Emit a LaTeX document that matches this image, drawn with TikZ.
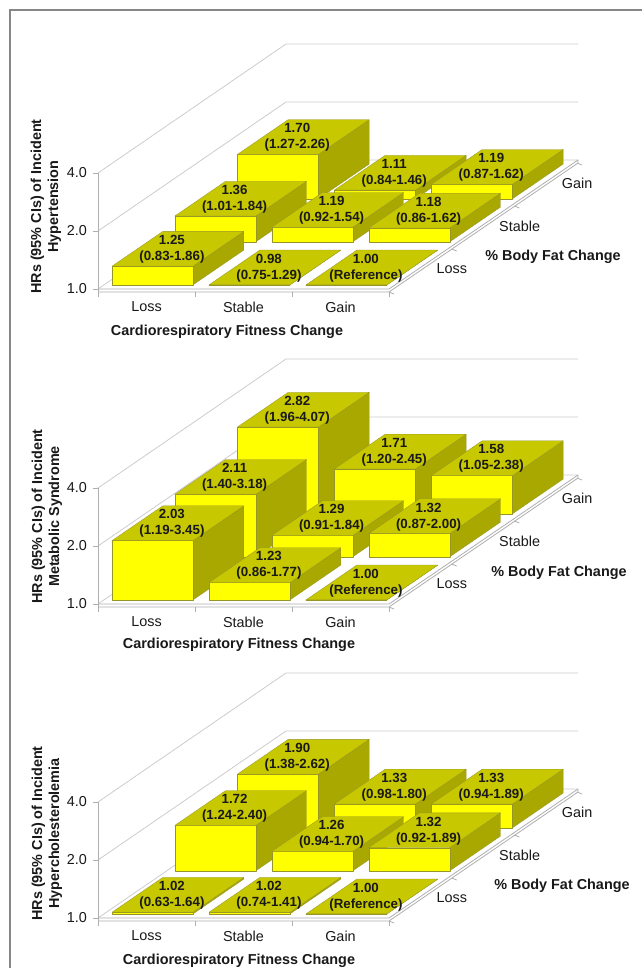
\documentclass[tikz,border=0pt]{standalone}
\usepackage{fontspec}
\setmainfont{Liberation Sans}
\definecolor{barfront}{RGB}{255,255,0}
\definecolor{bartop}{RGB}{200,200,0}
\definecolor{barside}{RGB}{168,168,0}
\definecolor{baredge}{RGB}{150,150,40}
\definecolor{gridgray}{RGB}{205,205,205}
\definecolor{axisgray}{RGB}{175,175,175}
\definecolor{framegray}{RGB}{135,135,135}
\definecolor{txt}{RGB}{25,25,25}
\tikzset{
  topface/.style={fill=bartop,draw=baredge,line width=0.3pt,line join=round},
  sideface/.style={fill=barside,draw=baredge,line width=0.3pt,line join=round},
  frontface/.style={fill=barfront,draw=baredge,line width=0.3pt,line join=round},
  barlabel/.style={align=center,inner sep=0pt,text=txt,font=\bfseries\fontsize{13.3}{16}\selectfont},
  gridline/.style={draw=gridgray,line width=0.8pt},
  axisline/.style={draw=axisgray,line width=0.8pt},
  ticklabel/.style={anchor=east,inner sep=0pt,text=txt,font=\fontsize{14.4}{17}\selectfont},
  catlabel/.style={inner sep=0pt,text=txt,font=\fontsize{14.4}{17}\selectfont},
  rowlabel/.style={anchor=west,inner sep=0pt,text=txt,font=\fontsize{14.4}{17}\selectfont},
  axistitle/.style={inner sep=0pt,text=txt,align=center,font=\bfseries\fontsize{14.4}{17}\selectfont},
}
% #1 origin y, #2 column, #3 row, #4 value, #5 line 1, #6 line 2, #7 node name
\newcommand\HRbar[7]{%
  \pgfmathsetmacro\bx{106+97*#2+(#3/3+0.032)*188}%
  \pgfmathsetmacro\by{#1-(#3/3+0.032)*129}%
  \pgfmathsetmacro\bh{max(0,58*ln(#4)/ln(2))}%
  \pgfmathsetmacro\bt{\by-\bh}%
  \path[sideface] ({\bx+81},\by) -- ++(50.8,-34.8) -- ++(0,-\bh) -- ++(-50.8,34.8) -- cycle;
  \path[frontface] (\bx,\by) rectangle ({\bx+81},\bt);
  \path[topface] (\bx,\bt) -- ++(81,0) -- ++(50.8,-34.8) -- ++(-81,0) -- cycle;
  \node[barlabel] (#7) at ({\bx+59.9},{\bt-16.9}) {#5\\#6};
}
% #1 origin y, #2 chart id
\newcommand\HRframe[2]{%
  \foreach \k in {0,1,2} {
    \draw[gridline] (98,{#1-58*\k}) -- (286,{#1-129-58*\k}) -- (578,{#1-129-58*\k});
  }
  \draw[axisline] (98,#1) -- (389,#1) -- (578,{#1-129});
  \draw[axisline] (98,{#1+3}) -- (389,{#1+3}) -- (578,{#1-126}) -- (578,{#1-129});
  \draw[axisline] (98,{#1-116}) -- (98,{#1+3});
  \foreach \k in {0,1,2} {\draw[axisline] (93,{#1-58*\k}) -- (98,{#1-58*\k});}
  \foreach \c in {0,1,2,3} {\draw[axisline] ({98+97*\c},{#1+3}) -- ({98+97*\c},{#1+8});}
  \foreach \r in {0,1,2,3} {\draw[axisline] ({389+188*\r/3},{#1+3-129*\r/3}) -- ++(5,2);}
  \node[ticklabel] (t#2a) at (87,#1) {1.0};
  \node[ticklabel] (t#2b) at (87,{#1-58}) {2.0};
  \node[ticklabel] (t#2c) at (87,{#1-116}) {4.0};
  \node[catlabel] (c#2a) at (146.5,{#1+18}) {Loss};
  \node[catlabel] (c#2b) at (243.5,{#1+18}) {Stable};
  \node[catlabel] (c#2c) at (340.5,{#1+18}) {Gain};
  \node[rowlabel] (r#2a) at ({389+188/6+16},{#1-129/6+1.5}) {Loss};
  \node[rowlabel] (r#2b) at ({389+188/2+16},{#1-129/2+1.5}) {Stable};
  \node[rowlabel] (r#2c) at ({389+188*5/6+16},{#1-129*5/6+1.5}) {Gain};
}
\begin{document}
\begin{tikzpicture}[x=1pt,y=-1pt]
\useasboundingbox (0,0) rectangle (642,968);
\fill[white] (0,0) rectangle (642,968);
\draw[framegray,line width=1.6pt] (10,968) -- (10,10) -- (642,10);

% ---------- Chart 1: Hypertension ----------
\HRframe{289}{1}
\HRbar{289}{0}{2}{1.70}{1.70}{(1.27-2.26)}{a20}
\HRbar{289}{1}{2}{1.11}{1.11}{(0.84-1.46)}{a21}
\HRbar{289}{2}{2}{1.19}{1.19}{(0.87-1.62)}{a22}
\HRbar{289}{0}{1}{1.36}{1.36}{(1.01-1.84)}{a10}
\HRbar{289}{1}{1}{1.19}{1.19}{(0.92-1.54)}{a11}
\HRbar{289}{2}{1}{1.18}{1.18}{(0.86-1.62)}{a12}
\HRbar{289}{0}{0}{1.25}{1.25}{(0.83-1.86)}{a00}
\HRbar{289}{1}{0}{0.98}{0.98}{(0.75-1.29)}{a01}
\HRbar{289}{2}{0}{1.00}{1.00}{(Reference)}{a02}
\node[axistitle,rotate=90] (ya) at (46,206.5) {HRs (95\% CIs) of Incident\\Hypertension};
\node[axistitle] (xa) at (227,332) {Cardiorespiratory Fitness Change};
\node[axistitle] (za) at (553,257) {\% Body Fat Change};

% ---------- Chart 2: Metabolic Syndrome ----------
\HRframe{604}{2}
\HRbar{604}{0}{2}{2.82}{2.82}{(1.96-4.07)}{b20}
\HRbar{604}{1}{2}{1.71}{1.71}{(1.20-2.45)}{b21}
\HRbar{604}{2}{2}{1.58}{1.58}{(1.05-2.38)}{b22}
\HRbar{604}{0}{1}{2.11}{2.11}{(1.40-3.18)}{b10}
\HRbar{604}{1}{1}{1.29}{1.29}{(0.91-1.84)}{b11}
\HRbar{604}{2}{1}{1.32}{1.32}{(0.87-2.00)}{b12}
\HRbar{604}{0}{0}{2.03}{2.03}{(1.19-3.45)}{b00}
\HRbar{604}{1}{0}{1.23}{1.23}{(0.86-1.77)}{b01}
\HRbar{604}{2}{0}{1.00}{1.00}{(Reference)}{b02}
\node[axistitle,rotate=90] (yb) at (47,516.5) {HRs (95\% CIs) of Incident\\Metabolic Syndrome};
\node[axistitle] (xb) at (239,645) {Cardiorespiratory Fitness Change};
\node[axistitle] (zb) at (559,573) {\% Body Fat Change};

% ---------- Chart 3: Hypercholesterolemia ----------
\HRframe{918}{3}
\HRbar{918}{0}{2}{1.90}{1.90}{(1.38-2.62)}{c20}
\HRbar{918}{1}{2}{1.33}{1.33}{(0.98-1.80)}{c21}
\HRbar{918}{2}{2}{1.33}{1.33}{(0.94-1.89)}{c22}
\HRbar{918}{0}{1}{1.72}{1.72}{(1.24-2.40)}{c10}
\HRbar{918}{1}{1}{1.26}{1.26}{(0.94-1.70)}{c11}
\HRbar{918}{2}{1}{1.32}{1.32}{(0.92-1.89)}{c12}
\HRbar{918}{0}{0}{1.02}{1.02}{(0.63-1.64)}{c00}
\HRbar{918}{1}{0}{1.02}{1.02}{(0.74-1.41)}{c01}
\HRbar{918}{2}{0}{1.00}{1.00}{(Reference)}{c02}
\node[axistitle,rotate=90] (yc) at (47,833.5) {HRs (95\% CIs) of Incident\\Hypercholesterolemia};
\node[axistitle] (xc) at (239,961) {Cardiorespiratory Fitness Change};
\node[axistitle] (zc) at (562,886) {\% Body Fat Change};
\end{tikzpicture}
\end{document}
